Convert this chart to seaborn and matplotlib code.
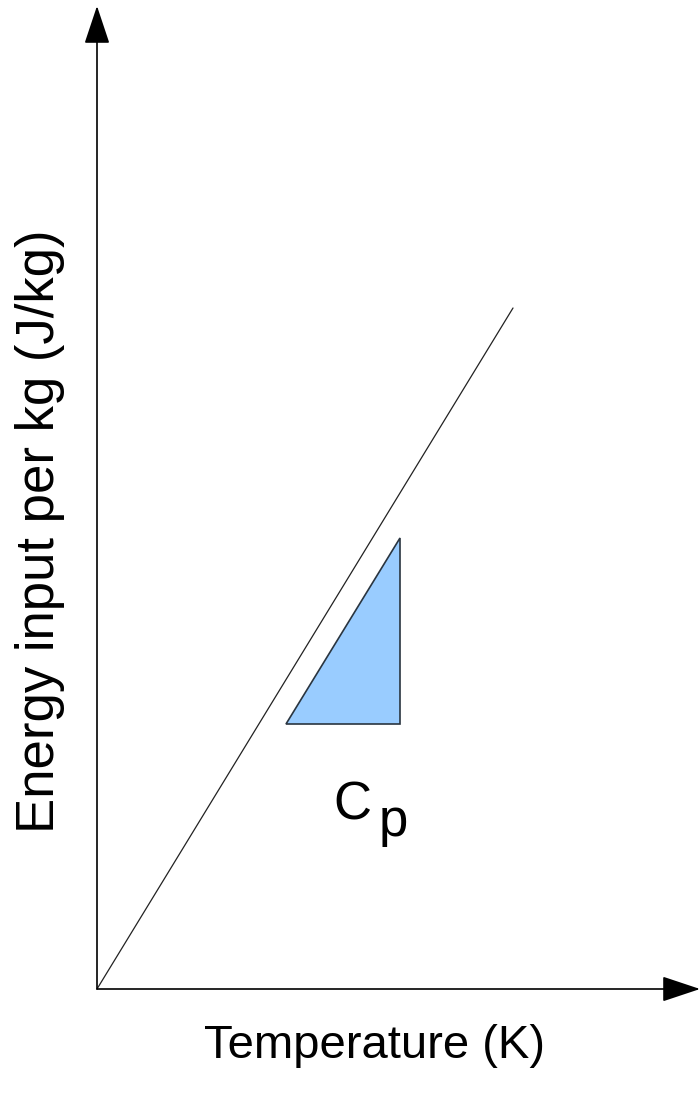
import numpy as np
import pandas as pd
import matplotlib
matplotlib.use('Agg')
import matplotlib.pyplot as plt
import seaborn as sns

sns.set_style('white')
plt.rcParams['font.family'] = ['Liberation Sans', 'DejaVu Sans']
plt.rcParams['text.color'] = 'black'

# schematic data (arbitrary units, origin at 0,0)
temperature = [0, 416]
energy = [0, 681]
# slope triangle for c_p
tri_temp = [189, 303, 303]
tri_energy = [265, 265, 451]

x_label = 'Temperature (K)'
y_label = 'Energy input per kg (J/kg)'

W, H = 700, 1099
fig = plt.figure(figsize=(W / 100, H / 100), dpi=100)
ax = fig.add_axes([97 / W, 110 / H, 603 / W, 983 / H])
ax.set_xlim(0, 603)
ax.set_ylim(0, 983)
ax.axis('off')

df = pd.DataFrame({'T': temperature, 'E': energy})
sns.lineplot(data=df, x='T', y='E', color='#222222', lw=0.9, ax=ax)

ax.fill(tri_temp, tri_energy, facecolor='#99ccff', edgecolor='#2a3540', lw=1.2)

# axes with arrow heads
arrow = dict(arrowstyle='-|>,head_length=2.4,head_width=0.8', color='black',
             lw=1.2, shrinkA=0, shrinkB=0)
ax.annotate('', xy=(1, 0), xytext=(0, 0), xycoords='axes fraction',
            arrowprops=arrow, annotation_clip=False)
ax.annotate('', xy=(0, 1), xytext=(0, 0), xycoords='axes fraction',
            arrowprops=arrow, annotation_clip=False)

fig.text(375 / W, 1 - 1046 / H, x_label, fontsize=34, ha='center', va='center')
fig.text(40 / W, 1 - 531 / H, y_label, fontsize=38, ha='center', va='center',
         rotation=90)
fig.text(333 / W, 1 - 820 / H, 'C', fontsize=38, ha='left', va='baseline')
fig.text(379 / W, 1 - 836 / H, 'p', fontsize=38, ha='left', va='baseline')

fig.savefig('out.png', dpi=100)
